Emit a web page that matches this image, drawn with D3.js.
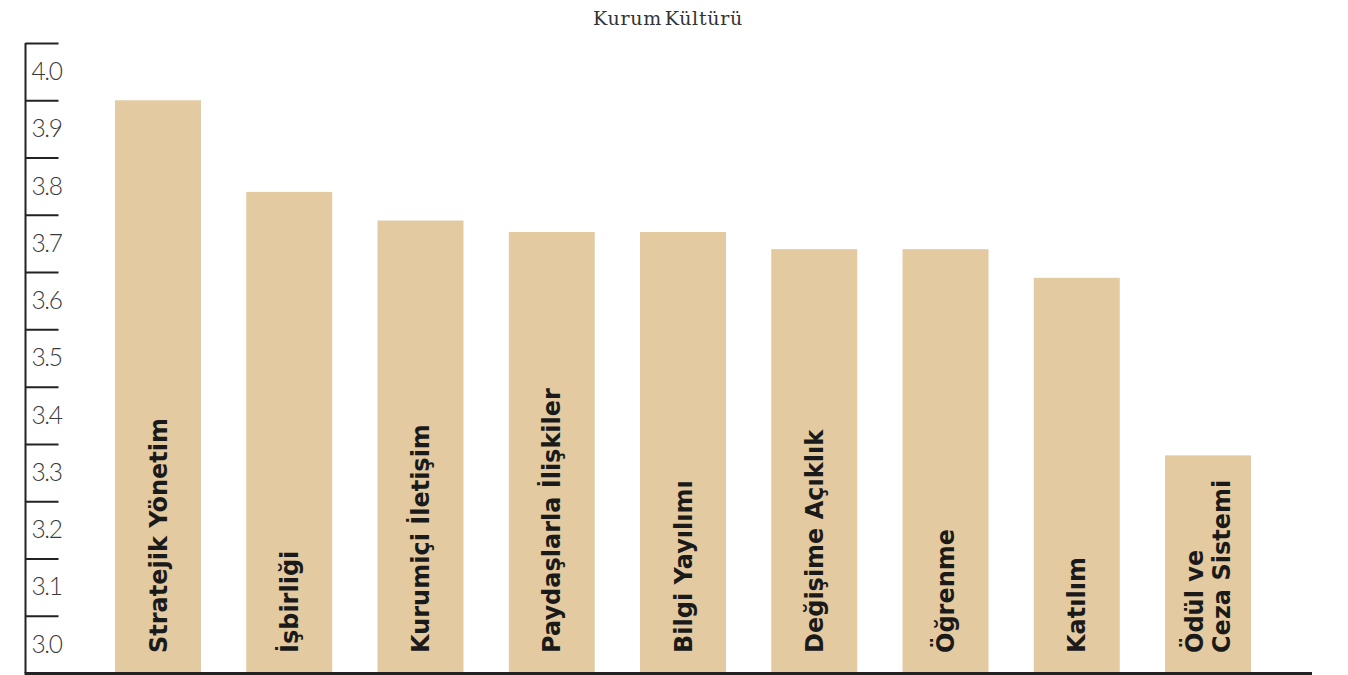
<!DOCTYPE html>
<html>
<head>
<meta charset="utf-8">
<script src="https://cdn.jsdelivr.net/npm/d3@7"></script>
<style>
  body { margin: 0; background: #fff; }
  svg { display: block; }
</style>
</head>
<body>
<div class="chartBox"></div>
<script>
  var categories = ['Stratejik Yönetim', 'İşbirliği', 'Kurumiçi İletişim', 'Paydaşlarla İlişkiler',
                    'Bilgi Yayılımı', 'Değişime Açıklık', 'Öğrenme', 'Katılım', 'Ödül ve|Ceza Sistemi'];
  var scores = [3.95, 3.79, 3.74, 3.72, 3.72, 3.69, 3.69, 3.64, 3.33];
  var tickLabels = [3.0, 3.1, 3.2, 3.3, 3.4, 3.5, 3.6, 3.7, 3.8, 3.9, 4.0];
  var bandEdges = [2.95, 3.05, 3.15, 3.25, 3.35, 3.45, 3.55, 3.65, 3.75, 3.85, 3.95, 4.05];

  var w = 1348,
      h = 675;

  var canvas = d3.select('.chartBox')
    .append('svg')
    .attr('width', w)
    .attr('height', h);

  var y = d3.scaleLinear()
    .domain([2.95, 4.05])
    .range([673, 43]);

  var x = d3.scaleBand()
    .domain(categories)
    .range([115, 1251])
    .paddingInner(0.345)
    .paddingOuter(0);

  // title
  canvas.append('text')
    .attr('x', 668)
    .attr('y', 25)
    .attr('text-anchor', 'middle')
    .attr('font-family', 'DejaVu Serif')
    .attr('font-size', 19)
    .attr('letter-spacing', 0.7)
    .attr('word-spacing', -4)
    .attr('fill', '#333')
    .text('Kurum Kültürü');

  // bars
  canvas.selectAll('rect.bar')
    .data(scores)
    .enter()
    .append('rect')
    .attr('class', 'bar')
    .attr('fill', '#E3CAA1')
    .attr('x', function(d, i){ return x(categories[i]); })
    .attr('width', x.bandwidth())
    .attr('y', function(d){ return y(d); })
    .attr('height', function(d){ return y(2.95) - y(d); });

  // y axis: tick marks at band edges
  var yAxis = d3.axisRight(y)
    .tickValues(bandEdges)
    .tickSize(33)
    .tickFormat('');
  var gy = canvas.append('g')
    .attr('transform', 'translate(25.5,0)')
    .call(yAxis);
  gy.select('.domain').attr('stroke', '#222').attr('stroke-width', 2).attr('d', 'M0,43V673');
  gy.selectAll('.tick line').attr('stroke', '#222').attr('stroke-width', 2);

  // y labels centred in each band
  var yLabels = d3.axisRight(y)
    .tickValues(tickLabels)
    .tickSize(0)
    .tickPadding(6)
    .tickFormat(d3.format('.1f'));
  var gl = canvas.append('g')
    .attr('transform', 'translate(25.5,0)')
    .call(yLabels);
  gl.select('.domain').remove();
  gl.selectAll('.tick text')
    .attr('font-family', 'Lato')
    .attr('font-weight', 300)
    .attr('font-size', 24.5)
    .attr('letter-spacing', -1.4)
    .attr('fill', '#3a3a3a');

  // x axis line
  canvas.append('line')
    .attr('x1', 24.5)
    .attr('x2', 1312)
    .attr('y1', 673.5)
    .attr('y2', 673.5)
    .attr('stroke', '#222')
    .attr('stroke-width', 3);

  // rotated labels inside the bars
  var labels = canvas.selectAll('text.cat')
    .data(categories)
    .enter()
    .append('text')
    .attr('class', 'cat')
    .attr('transform', function(d){
      return 'translate(' + (x(d) + x.bandwidth() / 2) + ',653) rotate(-90)';
    })
    .attr('font-family', 'DejaVu Sans')
    .attr('font-weight', 700)
    .attr('font-size', 24)
    .attr('fill', '#1a1a1a');

  labels.each(function(d){
    var lines = d.split('|');
    var t = d3.select(this);
    lines.forEach(function(line, k){
      t.append('tspan')
        .attr('x', 0)
        .attr('dy', k === 0 ? (0.36 - (lines.length - 1) * 0.55) + 'em' : '1.1em')
        .text(line);
    });
  });
</script>
</body>
</html>
